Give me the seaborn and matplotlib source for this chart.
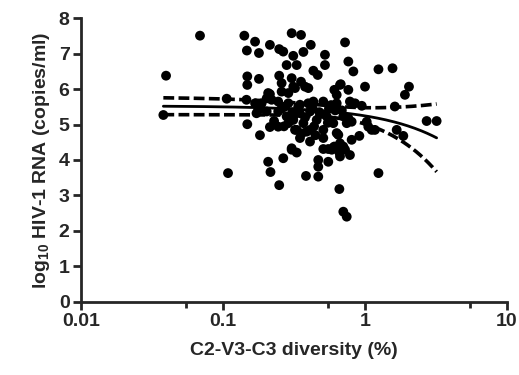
import numpy as np
import pandas as pd
import matplotlib
matplotlib.use('Agg')
import matplotlib.pyplot as plt
import seaborn as sns

# C2-V3-C3 diversity (%) per patient
diversity = [
    0.0399, 0.0382, 0.0692, 0.109, 0.1067,
    0.142, 0.169, 0.148, 0.180, 0.215, 0.250, 0.267,
    0.306, 0.356, 0.417, 0.314, 0.370, 0.282, 0.332,
    0.525, 0.525, 0.435, 0.467, 0.727, 0.767, 0.832,
    1.25, 1.57, 2.05, 1.92, 1.005, 0.767, 0.678, 0.611,
    0.149, 0.149, 0.180, 0.250, 0.260, 0.306, 0.356, 0.323, 0.401,
    0.260, 0.215,
    0.149, 0.183, 0.215, 0.209, 0.217, 0.250, 0.267, 0.306, 0.332, 0.386,
    0.471, 0.471, 0.471, 0.511, 0.554, 0.554, 0.601, 0.663, 0.670, 0.611,
    0.663, 0.707, 0.747, 1.25, 0.809, 0.917, 1.68, 1.87, 2.73, 3.21,
    1.63, 1.033, 1.18, 1.06, 0.855, 0.953, 0.767, 0.809, 1.12, 0.652,
    0.412, 0.727, 0.787,
    0.209, 0.221, 0.188, 0.169, 0.178, 0.204, 0.246, 0.246, 0.275, 0.290,
    0.314, 0.314, 0.246, 0.290, 0.323, 0.282,
    0.380, 0.670, 0.635, 0.787, 0.350, 0.435, 0.511, 0.635, 0.350, 0.412,
    0.314, 0.370, 0.459, 0.540, 0.601, 0.707, 0.747, 0.332, 0.412, 0.511,
    0.635, 0.350, 0.511, 0.670, 0.306, 0.586, 0.707,
    0.173, 0.147, 0.204, 0.23, 0.27, 0.36, 0.44, 0.48, 0.56, 0.42,
    0.29, 0.38, 0.45, 0.55, 0.62, 0.26,
    0.34, 0.39, 0.43, 0.49, 0.58, 0.31, 0.40, 0.69,
]

# log10 HIV-1 RNA (copies/ml)
viral_load = [
    6.38, 5.27, 7.51, 3.63, 5.73,
    7.51, 7.34, 7.09, 7.02, 7.25, 7.13, 7.06,
    7.58, 7.53, 7.25, 6.94, 7.05, 6.68, 6.68,
    6.97, 6.68, 6.52, 6.40, 7.32, 6.78, 6.50,
    6.56, 6.59, 6.07, 5.84, 6.07, 5.98, 6.14, 5.98,
    6.36, 6.12, 6.29, 6.38, 6.17, 6.31, 6.21, 6.03, 6.03,
    5.93, 5.86,
    5.01, 4.70, 4.93, 3.95, 3.66, 3.29, 4.05, 4.33, 4.21, 3.55,
    3.53, 3.81, 4.00, 4.31, 4.31, 3.95, 4.35, 4.21, 4.10, 4.38,
    3.18, 2.54, 2.40, 3.63, 4.57, 4.68, 4.85, 4.68, 5.10, 5.10,
    5.51, 5.08, 4.85, 4.94, 5.60, 5.53, 5.18, 5.08, 4.85, 4.71,
    4.52, 4.29, 4.14,
    5.89, 5.70, 5.60, 5.60, 5.42, 5.37, 5.37, 5.65, 5.51, 5.89,
    6.07, 5.23, 4.94, 5.04, 4.85, 5.23,
    6.07, 6.12, 5.84, 5.65, 5.56, 5.65, 5.65, 5.60, 5.32, 5.37,
    5.13, 5.04, 5.13, 5.23, 5.04, 5.23, 5.04, 4.85, 4.85, 4.85,
    4.76, 4.62, 4.62, 4.47, 4.29, 4.29, 4.38,
    5.32, 5.70, 5.74, 5.10, 4.95, 4.75, 4.95, 5.35, 5.45, 5.50,
    5.60, 5.20, 4.70, 5.05, 5.40, 5.45,
    5.50, 4.80, 5.45, 5.30, 5.55, 5.35, 5.60, 5.40,
]

x_major = [0.01, 0.1, 1, 10]
x_major_labels = ['0.01', '0.1', '1', '10']
x_minor = [0.055, 0.55, 5.5]
y_ticks = [0, 1, 2, 3, 4, 5, 6, 7, 8]

df = pd.DataFrame({'diversity': diversity, 'rna': viral_load})

# linear regression (linear x) with 95% confidence band, like the original
n = len(df)
slope, intercept = np.polyfit(df['diversity'], df['rna'], 1)
resid = df['rna'] - (intercept + slope * df['diversity'])
s = np.sqrt((resid ** 2).sum() / (n - 2))
xbar = df['diversity'].mean()
sxx = ((df['diversity'] - xbar) ** 2).sum()
t95 = 1.976
xs = np.geomspace(df['diversity'].min(), df['diversity'].max(), 200)
fit = intercept + slope * xs
half = t95 * s * np.sqrt(1 / n + (xs - xbar) ** 2 / sxx)
fit_df = pd.DataFrame({'x': xs, 'fit': fit, 'lo': fit - half, 'hi': fit + half})
print(n, slope, intercept, s)

sns.set_style('ticks')
plt.rcParams['font.family'] = ['Liberation Sans', 'DejaVu Sans']
plt.rcParams['font.weight'] = 'bold'
plt.rcParams['mathtext.fontset'] = 'custom'
plt.rcParams['mathtext.bf'] = 'Liberation Sans:bold'
plt.rcParams['mathtext.rm'] = 'Liberation Sans:bold'
plt.rcParams['mathtext.default'] = 'bf'

fig = plt.figure(figsize=(5.19, 3.75), dpi=100)
ax = fig.add_axes([0.1555, 0.1955, 0.8208, 0.7557])

sns.scatterplot(data=df, x='diversity', y='rna', color='black', s=50,
                edgecolor='none', ax=ax, zorder=3)
sns.lineplot(data=fit_df, x='x', y='fit', color='black', lw=2, ax=ax)
for col in ['lo', 'hi']:
    sns.lineplot(data=fit_df, x='x', y=col, color='black', lw=2.6, ax=ax,
                 dashes=False, linestyle=(0, (3, 1.2)))

ax.set_xscale('log')
ax.set_xlim(0.01, 10)
ax.set_ylim(0, 8)
ax.set_xticks(x_major)
ax.set_xticklabels(x_major_labels)
ax.set_xticks(x_minor, minor=True)
ax.set_xticklabels([], minor=True)
ax.set_yticks(y_ticks)

for side in ['left', 'bottom']:
    ax.spines[side].set_linewidth(2)
sns.despine(ax=ax)
ax.tick_params(axis='both', which='major', width=2, length=6, labelsize=14, pad=2)
ax.tick_params(axis='x', which='minor', width=2, length=4)

ax.set_xlabel('C2-V3-C3 diversity (%)', fontsize=14, fontweight='bold', labelpad=9)
ax.set_ylabel('log$_{10}$ HIV-1 RNA (copies/ml)', fontsize=14, fontweight='bold', labelpad=5)

plt.savefig('out.png', dpi=100)
